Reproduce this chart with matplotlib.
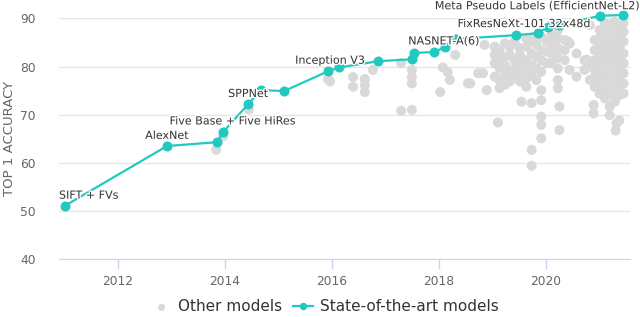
import matplotlib
matplotlib.use("Agg")
import matplotlib.pyplot as plt
import matplotlib.patheffects as pe

# state-of-the-art line
sota_year = [2011.01, 2012.92, 2013.86, 2013.97, 2014.44, 2014.68, 2015.11, 2015.93, 2016.14,
             2016.87, 2017.50, 2017.54, 2017.91, 2018.12, 2018.32, 2019.44, 2019.85, 2020.04,
             2020.26, 2021.01, 2021.44]
sota_acc = [51.1, 63.5, 64.3, 66.4, 72.2, 75.1, 74.9, 79.0, 79.8,
            81.1, 81.5, 82.8, 83.0, 84.0, 85.7, 86.5, 86.9, 88.2,
            88.6, 90.5, 90.7]

# labelled models
label_text = ["SIFT + FVs", "AlexNet", "Five Base + Five HiRes", "SPPNet", "Inception V3",
              "NASNET-A(6)", "FixResNeXt-101 32x48d", "Meta Pseudo Labels (EfficientNet-L2)"]
label_year = [2010.90, 2012.92, 2014.15, 2014.44, 2015.97, 2018.1, 2019.6, 2017.93]
label_acc = [53.2, 65.6, 68.6, 74.3, 81.2, 85.2, 88.8, 92.5]
label_ha = ["left", "center", "center", "center", "center", "center", "center", "left"]

# other models (grey dots)
other_year = [
    2013.84, 2013.97, 2014.45, 2015.93, 2015.97,
    2016.40, 2016.40, 2016.62, 2016.62, 2016.62, 2016.77,
    2017.30, 2017.50, 2017.50, 2017.50, 2017.30, 2017.50,
    2018.31, 2018.08, 2018.17, 2018.21, 2018.03, 2018.55, 2018.74,
    2018.86, 2018.59, 2018.83, 2018.90, 2019.11, 2019.55, 2019.74,
    2019.92, 2019.92, 2019.92, 2019.74, 2019.74,
    2020.26, 2020.26, 2020.90, 2020.90, 2021.20, 2021.30, 2021.33, 2021.38, 2021.31,
    # dense cluster 2019-2020
    2019.05, 2019.05, 2019.05, 2019.05,
    2019.14, 2019.14, 2019.14, 2019.14, 2019.14,
    2019.24, 2019.24, 2019.24, 2019.24, 2019.24,
    2019.33, 2019.33, 2019.33, 2019.33,
    2019.42, 2019.42, 2019.42, 2019.42,
    2019.52, 2019.52, 2019.52, 2019.52, 2019.52,
    2019.64, 2019.64, 2019.64, 2019.64, 2019.64, 2019.64,
    2019.74, 2019.74, 2019.74, 2019.74,
    2019.83, 2019.83, 2019.83, 2019.83,
    2019.92, 2019.92, 2019.92, 2019.92, 2019.92, 2019.92,
    2020.02, 2020.02, 2020.02, 2019.76,
    # 2020-2020.6
    2020.11, 2020.11, 2020.11, 2020.11,
    2020.23, 2020.23, 2020.23, 2020.23, 2020.23, 2020.23, 2020.24, 2020.24,
    2020.36, 2020.36, 2020.36, 2020.42,
    2020.45, 2020.45, 2020.45, 2020.58, 2020.58,
    # 2020.7-2021.5
    2020.73, 2020.73, 2020.77, 2020.83, 2020.83, 2020.83,
    2020.92, 2020.92, 2020.92, 2020.92, 2020.92, 2020.92,
    2021.01, 2021.01, 2021.01, 2021.01, 2021.01, 2021.01, 2021.01, 2021.01,
    2021.11, 2021.11, 2021.11, 2021.11, 2021.11, 2021.11, 2021.11, 2021.11, 2021.11,
    2021.20, 2021.20, 2021.20, 2021.20, 2021.20, 2021.20, 2021.20, 2021.20, 2021.20,
    2021.29, 2021.29, 2021.29, 2021.29, 2021.29, 2021.29, 2021.29, 2021.29, 2021.29,
    2021.39, 2021.39, 2021.39, 2021.39, 2021.39, 2021.39, 2021.39, 2021.39,
    2021.46, 2021.46, 2021.46, 2021.46, 2021.46, 2021.46, 2021.46, 2021.46,
]
other_acc = [
    62.7, 65.5, 71.1, 77.4, 76.9,
    77.8, 75.8, 77.4, 76.1, 74.7, 79.3,
    80.7, 79.3, 77.8, 76.5, 70.8, 71.0,
    82.4, 79.8, 78.8, 77.2, 74.7, 76.5, 78.6,
    84.5, 76.5, 78.6, 75.1, 68.4, 72.7, 72.4,
    69.6, 67.9, 65.1, 62.7, 59.4,
    71.7, 66.8, 72.0, 70.3, 69.9, 72.7, 68.2, 68.8, 66.7,
    84.1, 82.4, 80.7, 77.9,
    83.4, 81.3, 79.6, 77.2, 75.5,
    84.8, 82.0, 80.3, 78.2, 76.2,
    84.1, 82.4, 78.9, 76.9,
    85.2, 81.3, 79.6, 77.9,
    83.8, 82.4, 80.7, 78.6, 76.9,
    85.8, 84.1, 81.3, 79.6, 77.5, 75.8,
    85.2, 82.7, 80.3, 78.2,
    84.5, 82.0, 79.6, 77.2,
    86.2, 83.4, 81.3, 78.9, 75.1, 73.0,
    85.2, 83.1, 80.7, 86.1,
    86.5, 84.8, 82.7, 80.7,
    85.8, 83.8, 81.7, 79.6, 77.2, 75.5, 87.6, 83.4,
    85.5, 83.4, 81.3, 85.2,
    84.8, 79.3, 84.8, 82.7, 77.9,
    81.3, 79.3, 81.4, 88.6, 80.3, 77.2,
    85.5, 83.4, 81.3, 79.3, 77.9, 75.8,
    87.6, 85.8, 84.1, 82.0, 80.0, 78.2, 76.5, 74.4,
    89.0, 86.9, 84.8, 83.1, 81.0, 78.9, 77.2, 75.1, 73.4,
    88.6, 86.5, 84.5, 82.4, 80.7, 78.6, 76.9, 74.8, 71.7,
    89.3, 87.6, 85.2, 83.4, 81.3, 79.6, 77.5, 75.8, 73.7,
    88.3, 86.2, 84.1, 82.0, 80.0, 78.2, 76.2, 74.1,
    89.0, 87.2, 85.2, 82.7, 80.7, 78.6, 76.5, 74.4,
]

x_ticks = [2012, 2014, 2016, 2018, 2020]
y_ticks = [40, 50, 60, 70, 80, 90]

teal = "#22c9c0"
grey = "#d9d9d9"
txt = "#666666"

fig = plt.figure(figsize=(6.4, 3.17), dpi=100)
ax = fig.add_axes([59 / 640, 1 - 259.3 / 317, (630 - 59) / 640, (259.3 - 18.3) / 317])

ax.scatter(other_year, other_acc, s=52, color=grey, edgecolors="none", zorder=2,
           clip_on=False, label="Other models")
ax.plot(sota_year, sota_acc, color=teal, lw=1.6, marker="o", ms=6.2, zorder=3,
        clip_on=False, label="State-of-the-art models")

for t, xx, yy, ha in zip(label_text, label_year, label_acc, label_ha):
    ax.text(xx, yy, t, ha=ha, va="center", fontsize=8, color="#333333", zorder=4,
            clip_on=False,
            path_effects=[pe.withStroke(linewidth=2, foreground="white")])

ax.set_xlim(2010.90, 2021.58)
ax.set_ylim(40, 90)
ax.set_xticks(x_ticks)
ax.set_yticks(y_ticks)
ax.tick_params(axis="x", colors="#ccd6eb", length=7, width=1, labelcolor=txt, labelsize=8.8, pad=4)
ax.tick_params(axis="y", length=0, labelcolor=txt, labelsize=8.8, pad=17)
ax.grid(axis="y", color="#e6e6e6", lw=1)
ax.set_axisbelow(True)
for s in ["top", "right", "left"]:
    ax.spines[s].set_visible(False)
ax.spines["bottom"].set_color("#ccd6eb")
ax.set_ylabel("TOP 1 ACCURACY", color=txt, fontsize=9.5)
ax.yaxis.set_label_coords(-0.076, 0.5)

fig.legend(loc="lower center", bbox_to_anchor=(0.508, -0.035), ncol=2, frameon=False,
           fontsize=11, labelcolor="#333333", handlelength=1.3, columnspacing=0.7,
           handletextpad=0.45, markerscale=0.7)

fig.savefig("out.png", dpi=100)
